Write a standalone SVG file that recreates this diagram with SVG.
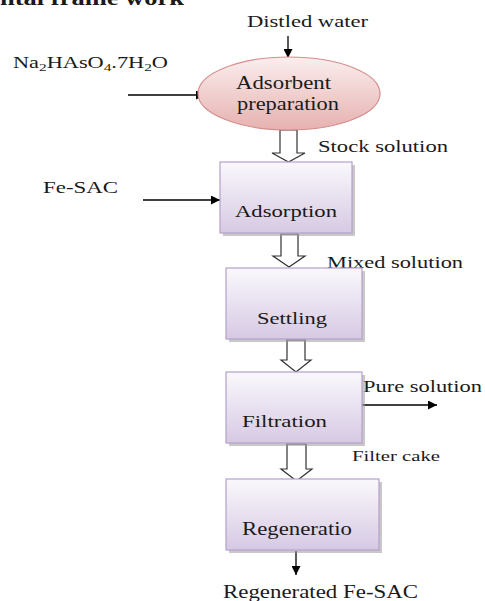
<svg xmlns="http://www.w3.org/2000/svg" width="485" height="601" viewBox="0 0 485 601">
<defs>
<linearGradient id="gBox" x1="0" y1="0" x2="0" y2="1">
<stop offset="0" stop-color="#faf8fc"/>
<stop offset="1" stop-color="#d6c9e3"/>
</linearGradient>
<linearGradient id="gEll" x1="0" y1="0" x2="0" y2="1">
<stop offset="0" stop-color="#fbeeee"/>
<stop offset="1" stop-color="#e6b1b0"/>
</linearGradient>
<marker id="ah" viewBox="0 0 10 10" refX="10" refY="5" markerWidth="9" markerHeight="9" markerUnits="userSpaceOnUse" orient="auto">
<path d="M0,0 L10,5 L0,10 z" fill="#000"/>
</marker>
</defs>
<style>
text{font-family:"Liberation Serif","Times New Roman",serif;fill:#1a1a1a;}
.box{fill:url(#gBox);stroke:#b4a1cc;stroke-width:1.2;}
.shadow{fill:#9a9a9a;opacity:0.55;}
.ell{fill:url(#gEll);stroke:#d48e8d;stroke-width:1.2;}
.line{stroke:#000;stroke-width:1.3;fill:none;marker-end:url(#ah);}
.block{fill:#fff;stroke:#333;stroke-width:1.2;}
</style>

<text x="0" y="5" font-size="20" font-weight="bold" textLength="184" lengthAdjust="spacingAndGlyphs">ntal frame work</text>

<g id="connectors">
<line class="line" x1="288" y1="36" x2="288" y2="58"/>
<line class="line" x1="128" y1="95" x2="205" y2="95"/>
<line class="line" x1="143" y1="200" x2="220" y2="200"/>
<line class="line" x1="362" y1="405" x2="437" y2="405"/>
<line class="line" x1="296" y1="551" x2="296" y2="575"/>
<path class="block" d="M280,130 L297,130 L297,153 L305,153 L288.5,162 L272,153 L280,153 Z"/>
<path class="block" d="M281,234 L298,234 L298,256 L305,256 L289,267 L273,256 L281,256 Z"/>
<path class="block" d="M287,340 L305,340 L305,360 L311,360 L296,372 L281,360 L287,360 Z"/>
<path class="block" d="M287,444 L306,444 L306,469 L312,469 L296.5,481 L281,469 L287,469 Z"/>
</g>

<g id="labels">
<text x="247" y="27" font-size="16" textLength="121" lengthAdjust="spacingAndGlyphs">Distled water</text>
<text x="13" y="68" font-size="16" textLength="155" lengthAdjust="spacingAndGlyphs">Na<tspan font-size="11" dy="3">2</tspan><tspan dy="-3">HAsO</tspan><tspan font-size="11" dy="3">4</tspan><tspan dy="-3">.7H</tspan><tspan font-size="11" dy="3">2</tspan><tspan dy="-3">O</tspan></text>
<text x="318" y="152" font-size="17" textLength="130" lengthAdjust="spacingAndGlyphs">Stock solution</text>
<text x="43" y="193" font-size="17" textLength="75" lengthAdjust="spacingAndGlyphs">Fe-SAC</text>
<text x="327" y="268" font-size="17" textLength="136" lengthAdjust="spacingAndGlyphs">Mixed solution</text>
<text x="363" y="392" font-size="17" textLength="119" lengthAdjust="spacingAndGlyphs">Pure solution</text>
<text x="352" y="461" font-size="14" textLength="88" lengthAdjust="spacingAndGlyphs">Filter cake</text>
<text x="223" y="598" font-size="19" textLength="195" lengthAdjust="spacingAndGlyphs">Regenerated Fe-SAC</text>
</g>

<g id="adsorbent-preparation">
<ellipse class="ell" cx="289" cy="93.5" rx="91" ry="36.5"/>
<text x="236" y="89" font-size="18" textLength="95" lengthAdjust="spacingAndGlyphs">Adsorbent</text>
<text x="237" y="110" font-size="18" textLength="102" lengthAdjust="spacingAndGlyphs">preparation</text>
</g>

<g id="adsorption">
<rect class="shadow" x="223" y="165" width="132" height="71"/>
<rect class="box" x="220" y="162" width="132" height="71"/>
<text x="235" y="217" font-size="17" textLength="102" lengthAdjust="spacingAndGlyphs">Adsorption</text>
</g>

<g id="settling">
<rect class="shadow" x="229" y="271" width="136" height="71"/>
<rect class="box" x="226" y="268" width="136" height="71"/>
<text x="257" y="324" font-size="17" textLength="70" lengthAdjust="spacingAndGlyphs">Settling</text>
</g>

<g id="filtration">
<rect class="shadow" x="229" y="375" width="136" height="71"/>
<rect class="box" x="226" y="372" width="136" height="71"/>
<text x="242" y="427" font-size="17" textLength="85" lengthAdjust="spacingAndGlyphs">Filtration</text>
</g>

<g id="regeneration">
<rect class="shadow" x="229" y="482" width="153" height="71"/>
<rect class="box" x="226" y="479" width="153" height="71"/>
<text x="242" y="535" font-size="19" textLength="110" lengthAdjust="spacingAndGlyphs">Regeneratio</text>
</g>
</svg>
